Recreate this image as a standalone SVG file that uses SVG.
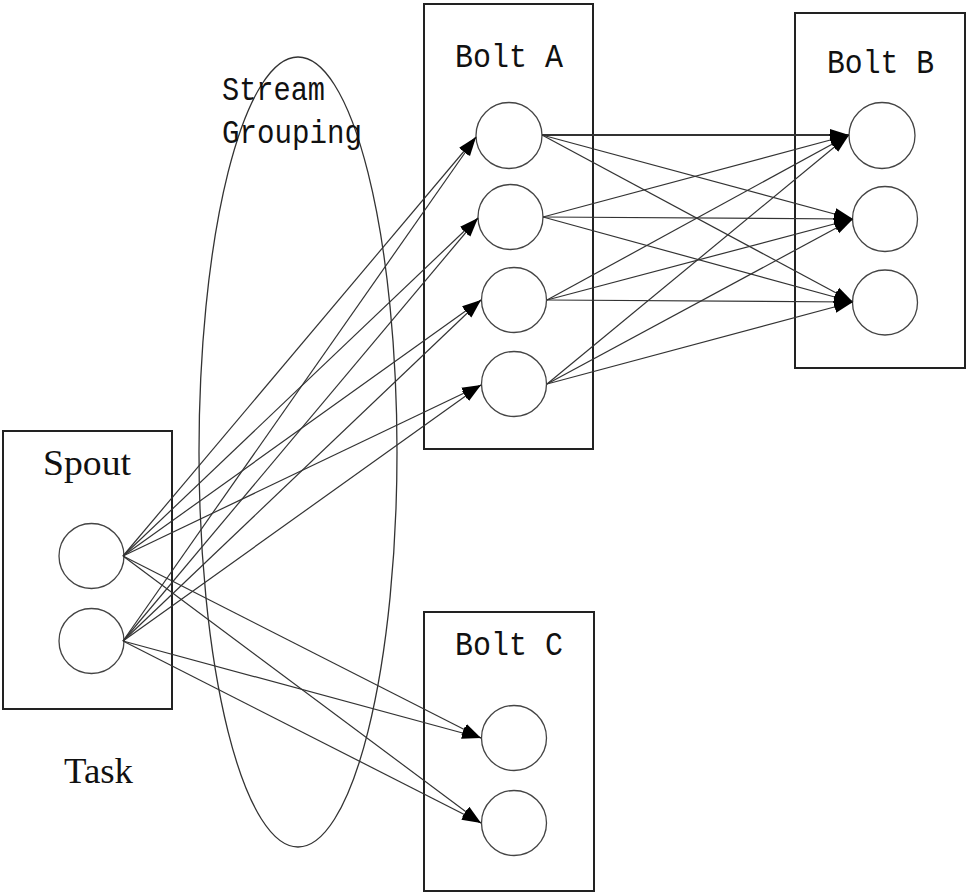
<svg xmlns="http://www.w3.org/2000/svg" width="969" height="895" viewBox="0 0 969 895">
<style>
.box{fill:none;stroke:#222;stroke-width:2}
.node{fill:#fff;stroke:#444;stroke-width:1.3}
.mono{font-family:"Liberation Mono","DejaVu Sans Mono",monospace;font-size:34px;fill:#111}
.serif{font-family:"Liberation Serif","DejaVu Serif",serif;font-size:36px;fill:#111}
#connectors line{stroke:#333;stroke-width:1.2;marker-end:url(#arr)}
</style>
<defs>
<marker id="arr" markerUnits="userSpaceOnUse" markerWidth="20" markerHeight="14" viewBox="0 0 20 14" refX="19" refY="7" orient="auto">
<path d="M0,1 L19,7 L0,13 Z" fill="#000"/>
</marker>
</defs>
<rect width="969" height="895" fill="#fff"/>
<g id="stream-grouping">
<ellipse cx="298" cy="452" rx="99" ry="395" fill="none" stroke="#333" stroke-width="1.3"/>
<text class="mono" x="222" y="100" textLength="103" lengthAdjust="spacingAndGlyphs">Stream</text>
<text class="mono" x="222" y="143" textLength="140" lengthAdjust="spacingAndGlyphs">Grouping</text>
</g>
<g id="spout">
<rect class="box" x="3" y="431" width="169" height="278"/>
<text class="serif" x="43" y="475" textLength="88" lengthAdjust="spacingAndGlyphs">Spout</text>
<circle class="node" cx="91.5" cy="556" r="32.5"/>
<circle class="node" cx="91.5" cy="641" r="32.5"/>
</g>
<g id="task"><text class="serif" x="64" y="783" textLength="69" lengthAdjust="spacingAndGlyphs">Task</text></g>
<g id="bolt-a">
<rect class="box" x="424" y="4" width="169" height="445"/>
<text class="mono" x="455" y="67" textLength="108" lengthAdjust="spacingAndGlyphs">Bolt A</text>
<circle class="node" cx="509" cy="135.5" r="33"/>
<circle class="node" cx="510.5" cy="217" r="32.5"/>
<circle class="node" cx="514" cy="300" r="32.5"/>
<circle class="node" cx="514" cy="384" r="32.5"/>
</g>
<g id="bolt-b">
<rect class="box" x="795" y="13" width="170" height="355"/>
<text class="mono" x="827" y="73" textLength="107" lengthAdjust="spacingAndGlyphs">Bolt B</text>
<circle class="node" cx="882" cy="135.5" r="33"/>
<circle class="node" cx="885" cy="219" r="32.5"/>
<circle class="node" cx="885" cy="302.5" r="32.5"/>
</g>
<g id="bolt-c">
<rect class="box" x="424" y="612" width="170" height="279"/>
<text class="mono" x="455" y="655" textLength="108" lengthAdjust="spacingAndGlyphs">Bolt C</text>
<circle class="node" cx="514" cy="738" r="32.5"/>
<circle class="node" cx="514" cy="823" r="32.5"/>
</g>
<g id="connectors">
<line x1="123" y1="556" x2="476" y2="137"/>
<line x1="123" y1="641" x2="476" y2="137"/>
<line x1="123" y1="556" x2="478" y2="218"/>
<line x1="123" y1="641" x2="478" y2="218"/>
<line x1="123" y1="556" x2="481" y2="300"/>
<line x1="123" y1="641" x2="481" y2="300"/>
<line x1="123" y1="556" x2="481" y2="385"/>
<line x1="123" y1="641" x2="481" y2="385"/>
<line x1="123" y1="556" x2="481" y2="738"/>
<line x1="123" y1="641" x2="481" y2="738"/>
<line x1="123" y1="556" x2="481" y2="823"/>
<line x1="123" y1="641" x2="481" y2="823"/>
<line x1="542" y1="135" x2="849" y2="135" style="stroke-width:2"/>
<line x1="543" y1="217" x2="849" y2="135"/>
<line x1="547" y1="300" x2="849" y2="135"/>
<line x1="547" y1="384" x2="849" y2="135"/>
<line x1="542" y1="135" x2="853" y2="219"/>
<line x1="543" y1="217" x2="853" y2="219"/>
<line x1="547" y1="300" x2="853" y2="219"/>
<line x1="547" y1="384" x2="853" y2="219"/>
<line x1="542" y1="135" x2="853" y2="302"/>
<line x1="543" y1="217" x2="853" y2="302"/>
<line x1="547" y1="300" x2="853" y2="302"/>
<line x1="547" y1="384" x2="853" y2="302"/>
</g>
</svg>
